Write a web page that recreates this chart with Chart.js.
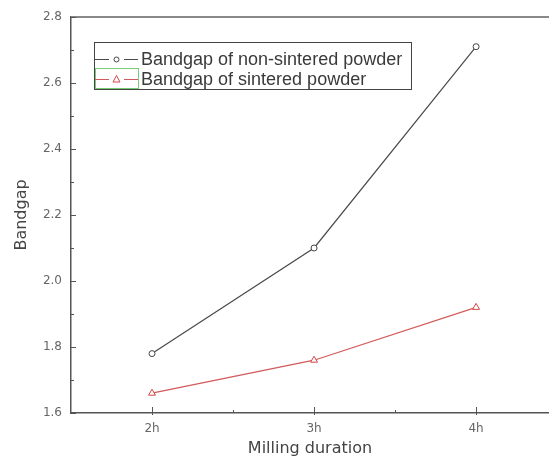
<!DOCTYPE html>
<html>
<head>
<meta charset="utf-8">
<script src="https://cdn.jsdelivr.net/npm/chart.js@4.4.0/dist/chart.umd.min.js"></script>
<style>
  html, body { margin: 0; padding: 0; background: #fff; }
  #wrap { width: 549px; height: 457px; }
</style>
</head>
<body>
<div id="wrap"><canvas id="myChart" width="549" height="457"></canvas></div>

<script>
    // data
    var durations = [2, 3, 4];
    var durationLabels = ['2h', '3h', '4h'];
    var nonSintered = [1.78, 2.10, 2.71];
    var sintered = [1.66, 1.76, 1.92];
    var yTicks = [1.6, 1.8, 2.0, 2.2, 2.4, 2.6, 2.8];
    var legendLabels = ['Bandgap of non-sintered powder', 'Bandgap of sintered powder'];

    function toPoints(ys) {
        return durations.map(function (x, i) { return { x: x, y: ys[i] }; });
    }

    // inward ticks, top frame line, boxed legend
    var framePlugin = {
        id: 'frame',
        afterDraw: function (chart) {
            var ctx = chart.ctx;
            var a = chart.chartArea;
            var xs = chart.scales.x, ys = chart.scales.y;
            ctx.save();
            // top frame
            ctx.strokeStyle = '#888';
            ctx.lineWidth = 2;
            ctx.beginPath();
            ctx.moveTo(a.left, a.top);
            ctx.lineTo(chart.width, a.top);
            ctx.stroke();

            ctx.strokeStyle = '#555';
            ctx.lineWidth = 1;
            // y ticks
            for (var v = 1.6; v <= 2.801; v += 0.1) {
                var py = Math.round(ys.getPixelForValue(v)) + 0.5;
                var major = Math.round(v * 10) % 2 === 0;
                ctx.beginPath();
                ctx.moveTo(a.left, py);
                ctx.lineTo(a.left + (major ? 5 : 3), py);
                ctx.stroke();
            }
            // x ticks
            for (var t = 2; t <= 4.5; t += 0.5) {
                var px = Math.round(xs.getPixelForValue(t)) + 0.5;
                if (px > a.right) continue;
                var isMajor = t % 1 === 0;
                ctx.beginPath();
                ctx.moveTo(px, a.bottom + (isMajor ? 2 : 0));
                ctx.lineTo(px, a.bottom - (isMajor ? 6 : 3));
                ctx.stroke();
            }

            // legend
            var bx = 94, by = 42, bw = 317, bh = 47;
            ctx.strokeStyle = '#444';
            ctx.lineWidth = 1;
            ctx.strokeRect(bx + 0.5, by + 0.5, bw, bh);
            var rows = [59, 79];
            ctx.font = '18px "Liberation Sans", Arial, sans-serif';
            ctx.textBaseline = 'middle';
            ctx.textAlign = 'left';
            chart.data.datasets.forEach(function (ds, i) {
                var ry = rows[i] + 0.5;
                if (i === 1) {
                    ctx.strokeStyle = '#7c7';
                    ctx.strokeRect(95.5, 68.5, 43, 20);
                }
                ctx.strokeStyle = ds.borderColor;
                ctx.lineWidth = 1;
                ctx.beginPath();
                ctx.moveTo(95, ry);
                ctx.lineTo(109, ry);
                ctx.moveTo(124, ry);
                ctx.lineTo(138, ry);
                ctx.stroke();
                ctx.fillStyle = '#fff';
                ctx.strokeStyle = ds.pointBorderColor;
                var mx = 116.5;
                ctx.beginPath();
                if (ds.pointStyle === 'triangle') {
                    ctx.moveTo(mx, ry - 4);
                    ctx.lineTo(mx + 3.5, ry + 2.5);
                    ctx.lineTo(mx - 3.5, ry + 2.5);
                    ctx.closePath();
                } else {
                    ctx.arc(mx, ry, 2.5, 0, Math.PI * 2);
                }
                ctx.fill();
                ctx.stroke();
                ctx.fillStyle = '#3a3a3a';
                ctx.fillText(legendLabels[i], 141, rows[i] + 1);
            });
            ctx.restore();
        }
    };

    var ctx = document.getElementById('myChart').getContext('2d');
    var myChart = new Chart(ctx, {
        type: 'line',
        data: {
            datasets: [
                {
                    label: legendLabels[0],
                    data: toPoints(nonSintered),
                    borderColor: '#4a4a4a',
                    borderWidth: 1.2,
                    pointStyle: 'circle',
                    pointRadius: 3,
                    pointBorderWidth: 1,
                    pointBackgroundColor: '#fff',
                    pointBorderColor: '#444',
                    tension: 0
                },
                {
                    label: legendLabels[1],
                    data: toPoints(sintered),
                    borderColor: '#d25a5a',
                    borderWidth: 1.2,
                    pointStyle: 'triangle',
                    pointRadius: 4,
                    pointBorderWidth: 1,
                    pointBackgroundColor: '#fff',
                    pointBorderColor: '#d04848',
                    tension: 0
                }
            ]
        },
        options: {
            responsive: false,
            animation: false,
            devicePixelRatio: 1,
            layout: { autoPadding: false, padding: { top: 17, right: 0, left: 0, bottom: 0 } },
            plugins: {
                legend: { display: false },
                tooltip: { enabled: false }
            },
            scales: {
                x: {
                    type: 'linear',
                    min: 1.5,
                    max: 4.45,
                    afterBuildTicks: function (scale) {
                        scale.ticks = durations.map(function (d) { return { value: d }; });
                    },
                    afterFit: function (scale) { scale.height = 44; },
                    grid: { display: false, drawTicks: false },
                    border: { display: true, color: '#555', width: 1.5 },
                    ticks: {
                        padding: 9,
                        color: '#666',
                        font: { family: 'DejaVu Sans', size: 12 },
                        maxRotation: 0,
                        callback: function (v) {
                            var i = durations.indexOf(v);
                            return i >= 0 ? durationLabels[i] : '';
                        }
                    },
                    title: {
                        display: true,
                        text: 'Milling duration',
                        color: '#444',
                        font: { family: 'DejaVu Sans', size: 16, lineHeight: 1 },
                        padding: { top: 0, bottom: 0 }
                    }
                },
                y: {
                    min: 1.6,
                    max: 2.8,
                    afterBuildTicks: function (scale) {
                        scale.ticks = yTicks.map(function (v) { return { value: v }; });
                    },
                    afterFit: function (scale) { scale.width = 71; },
                    grid: { display: false, drawTicks: false },
                    border: { display: true, color: '#555', width: 1.5 },
                    ticks: {
                        padding: 9,
                        color: '#666',
                        font: { family: 'DejaVu Sans', size: 12 },
                        callback: function (v) { return v.toFixed(1); }
                    },
                    title: {
                        display: true,
                        text: 'Bandgap',
                        color: '#444',
                        font: { family: 'DejaVu Sans', size: 16, lineHeight: 1 },
                        padding: { top: 14, bottom: 0 }
                    }
                }
            }
        },
        plugins: [framePlugin]
    });
</script>
</body>
</html>
